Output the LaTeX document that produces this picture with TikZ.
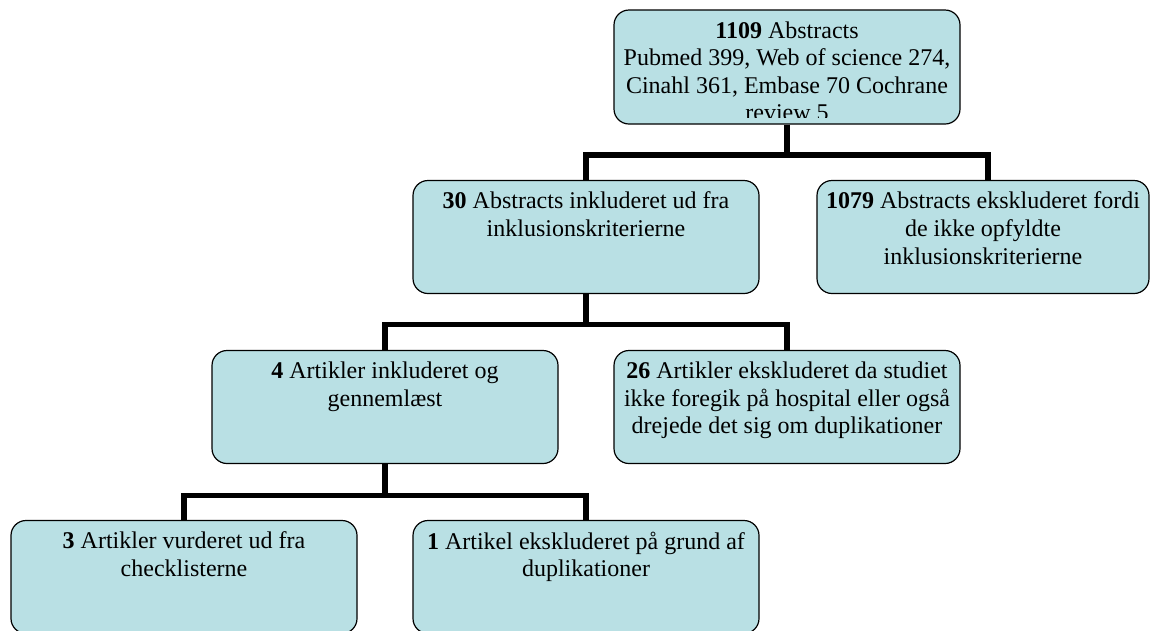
\documentclass[tikz,border=0pt]{standalone}
\usepackage{fontspec}
\setmainfont{Liberation Serif}
\usetikzlibrary{positioning}
\definecolor{boxblue}{RGB}{185,224,228}
\newcommand{\boxtxt}[2][340pt]{\parbox[t][90pt][t]{#1}{\centering #2}}

\begin{document}
\begin{tikzpicture}[x=1pt,y=1pt,node distance=170pt and 201pt,on grid,
    box/.style={draw=black,line width=1.2pt,fill=boxblue,rounded corners=15pt,
                inner xsep=3pt,inner ysep=11.5pt,
                font=\fontsize{24pt}{27.6pt}\selectfont},
    link/.style={line width=5.5pt,line join=miter}]
    % page
    \clip (0,0) rectangle (1150,-630);
    % level 1
    \node[box,minimum width=346pt,minimum height=114pt] (top) at (787,-67) {};
    \begin{scope}
      \clip (top.north west) rectangle ([yshift=7pt]top.south east);
      \node[box,draw=none,fill=none,anchor=north] (toptxt) at (top.north)
        {\parbox[t]{340pt}{\centering \textbf{1109} Abstracts\\
          Pubmed 399, Web of science 274,\\
          Cinahl 361, Embase 70 Cochrane\\
          review 5}};
    \end{scope}
    % level 2
    \node[box] (a) [below left=of top]
      {\boxtxt{\textbf{30} Abstracts inkluderet ud fra\\ inklusionskriterierne}};
    \node[box] (b) [below right=170pt and 196pt of top]
      {\boxtxt[326pt]{\textbf{1079} Abstracts ekskluderet fordi\\ de ikke opfyldte\\ inklusionskriterierne}};
    % level 3
    \node[box] (c) [below left=of a]
      {\boxtxt{\textbf{4} Artikler inkluderet og\\ gennemlæst}};
    \node[box] (d) [below right=of a]
      {\boxtxt{\textbf{26} Artikler ekskluderet da studiet\\ ikke foregik på hospital eller også\\ drejede det sig om duplikationer}};
    % level 4
    \node[box] (e) [below left=of c]
      {\boxtxt{\textbf{3} Artikler vurderet ud fra\\ checklisterne}};
    \node[box] (f) [below right=of c]
      {\boxtxt{\textbf{1} Artikel ekskluderet på grund af\\ duplikationer}};
    % links
    \draw[link] (top.south) -- ++(0,-30.5) -| (a.north);
    \draw[link] (top.south) -- ++(0,-30.5) -| ([xshift=5pt]b.north);
    \draw[link] (a.south)   -- ++(0,-30.5) -| (c.north);
    \draw[link] (a.south)   -- ++(0,-30.5) -| (d.north);
    \draw[link] (c.south)   -- ++(0,-31.5) -| (e.north);
    \draw[link] (c.south)   -- ++(0,-31.5) -| (f.north);
\end{tikzpicture}
\end{document}
